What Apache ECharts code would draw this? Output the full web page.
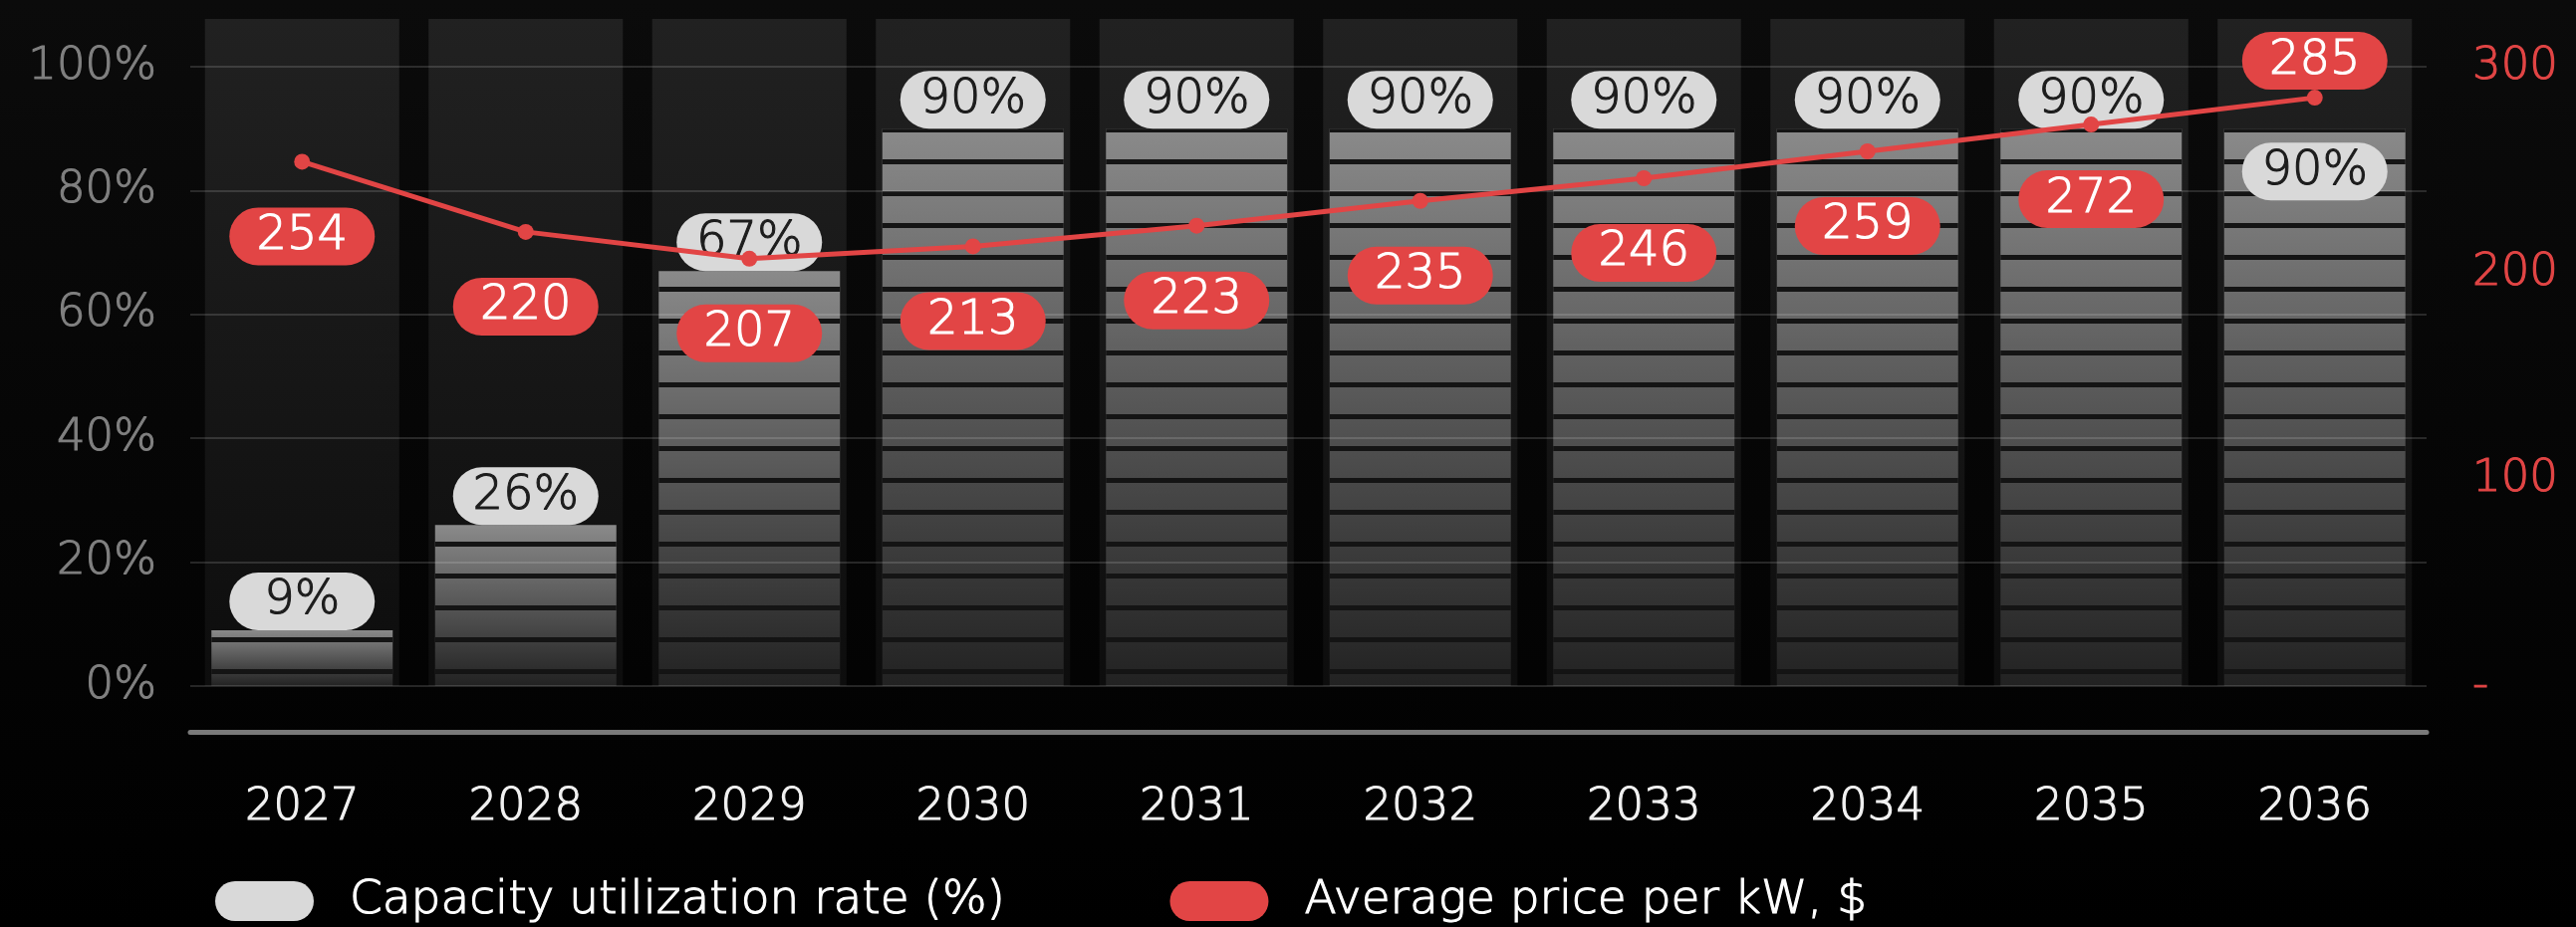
<!DOCTYPE html>
<html><head><meta charset="utf-8">
<script src="https://cdn.jsdelivr.net/npm/echarts@6/dist/echarts.min.js"></script>
<style>html,body{margin:0;padding:0;background:#000;}#c{width:2586px;height:931px;}</style>
</head><body><div id="c"></div>
<script>
// ---- data ----
const years = ['2027','2028','2029','2030','2031','2032','2033','2034','2035','2036'];
const utilization = [9, 26, 67, 90, 90, 90, 90, 90, 90, 90];
const price = [254, 220, 207, 213, 223, 235, 246, 259, 272, 285];
const pctTickValues = [0, 20, 40, 60, 80, 100];
const pctTickLabels = ['0%', '20%', '40%', '60%', '80%', '100%'];
const priceTickValues = [0, 100, 200, 300];
const priceTickLabels = ['-', '100', '200', '300'];
const barName = 'Capacity utilization rate (%)';
const lineName = 'Average price per kW, $';

// ---- styles ----
const FONT = 'DejaVu Sans';
const FW = 200;
const BW = 1.1; // stroke to thicken the extra-light face
const RED = '#e24545';
const PILL_GRAY = '#d9d9d9';
const lastIdx = years.length - 1;
const G = echarts.graphic.LinearGradient;
const pillIcon = 'path://M20 0L79 0A20 20 0 0 1 79 40L20 40A20 20 0 0 1 20 0Z';
const txt = (color, size) => ({color, fontSize: size, fontFamily: FONT, fontWeight: FW,
  textBorderColor: color, textBorderWidth: BW});

const pillLabel = (bg, fg) => Object.assign(txt(fg, 48), {
  show: true, backgroundColor: bg,
  width: 146, height: 58, lineHeight: 58, borderRadius: 29, align: 'center', padding: 0
});

const chart = echarts.init(document.getElementById('c'), null, {renderer: 'canvas'});
chart.setOption({
  animation: false,
  backgroundColor: new G(0, 0, 0, 1, [{offset: 0, color: '#0b0b0b'}, {offset: 1, color: '#000000'}]),
  textStyle: {fontFamily: FONT, fontWeight: FW},
  grid: {left: 191, right: 150, top: 19, bottom: 242, containLabel: false},
  legend: {
    left: 216, top: 881, padding: 0, itemWidth: 99, itemHeight: 40, itemGap: 165,
    textStyle: Object.assign(txt('#ffffff', 47), {padding: [0, 0, 0, 31]}),
    data: [
      {name: barName, icon: pillIcon, itemStyle: {color: PILL_GRAY}},
      {name: lineName, icon: pillIcon, itemStyle: {color: RED}}
    ]
  },
  xAxis: [
    {type: 'category', data: years, offset: 46,
     axisLine: {show: true, onZero: false, lineStyle: {color: '#7a7a7a', width: 5}},
     axisTick: {show: false},
     axisLabel: Object.assign(txt('#f2f2f2', 45), {margin: 54})},
    {type: 'category', data: years, show: false}
  ],
  yAxis: [
    {type: 'value', min: 0, max: 107.72, interval: 20, z: 3,
     axisLine: {show: false}, axisTick: {show: false},
     axisLabel: Object.assign(txt('#808080', 45), {margin: 34,
       formatter: v => { const i = pctTickValues.indexOf(v); return i < 0 ? '' : pctTickLabels[i]; }}),
     splitLine: {show: true, showMaxLine: false, lineStyle: {color: 'rgba(255,255,255,0.14)', width: 2}}},
    {type: 'value', min: 0, max: 323.16, interval: 100, position: 'right',
     axisLine: {show: false}, axisTick: {show: false}, splitLine: {show: false},
     axisLabel: Object.assign(txt(RED, 45), {margin: 46,
       formatter: v => { const i = priceTickValues.indexOf(v); return i < 0 ? '' : priceTickLabels[i]; }})}
  ],
  series: [
    { // column backgrounds
      name: barName, type: 'bar', xAxisIndex: 1, yAxisIndex: 0, barWidth: 195, barGap: '-100%', z: 1,
      showBackground: true, silent: true,
      backgroundStyle: {color: new G(0, 0, 0, 1, [{offset: 0, color: '#212121'}, {offset: 1, color: '#0d0d0d'}])},
      itemStyle: {color: 'rgba(0,0,0,0)'},
      data: utilization
    },
    { // striped bars
      name: barName, type: 'bar', xAxisIndex: 0, yAxisIndex: 0, barWidth: 182, z: 2,
      itemStyle: {
        color: new G(0, 0, 0, 1, [{offset: 0, color: '#8a8a8a'}, {offset: 1, color: '#222222'}]),
        decal: {symbol: 'rect', symbolSize: 1, color: '#141414', dashArrayX: [1, 0], dashArrayY: [5, 27], rotation: 0}
      },
      data: utilization
    },
    { // value pills
      name: barName, type: 'bar', xAxisIndex: 1, yAxisIndex: 0, barWidth: 195, barGap: '-100%', z: 5,
      itemStyle: {color: 'rgba(0,0,0,0)'},
      label: Object.assign(pillLabel(PILL_GRAY, '#1c1c1c'), {position: 'top', distance: 0, formatter: '{c}%'}),
      data: utilization.map((v, i) => i === lastIdx
        ? {value: v, label: {position: 'insideTop', distance: 14}} : v)
    },
    {
      name: lineName, type: 'line', xAxisIndex: 0, yAxisIndex: 1, z: 10,
      symbol: 'circle', symbolSize: 16, showSymbol: true,
      lineStyle: {color: RED, width: 5}, itemStyle: {color: RED},
      label: Object.assign(pillLabel(RED, '#ffffff'), {position: 'bottom', distance: 38}),
      data: price.map((v, i) => i === lastIdx
        ? {value: v, label: {position: 'top', distance: 0}} : v)
    }
  ]
});
</script></body></html>
